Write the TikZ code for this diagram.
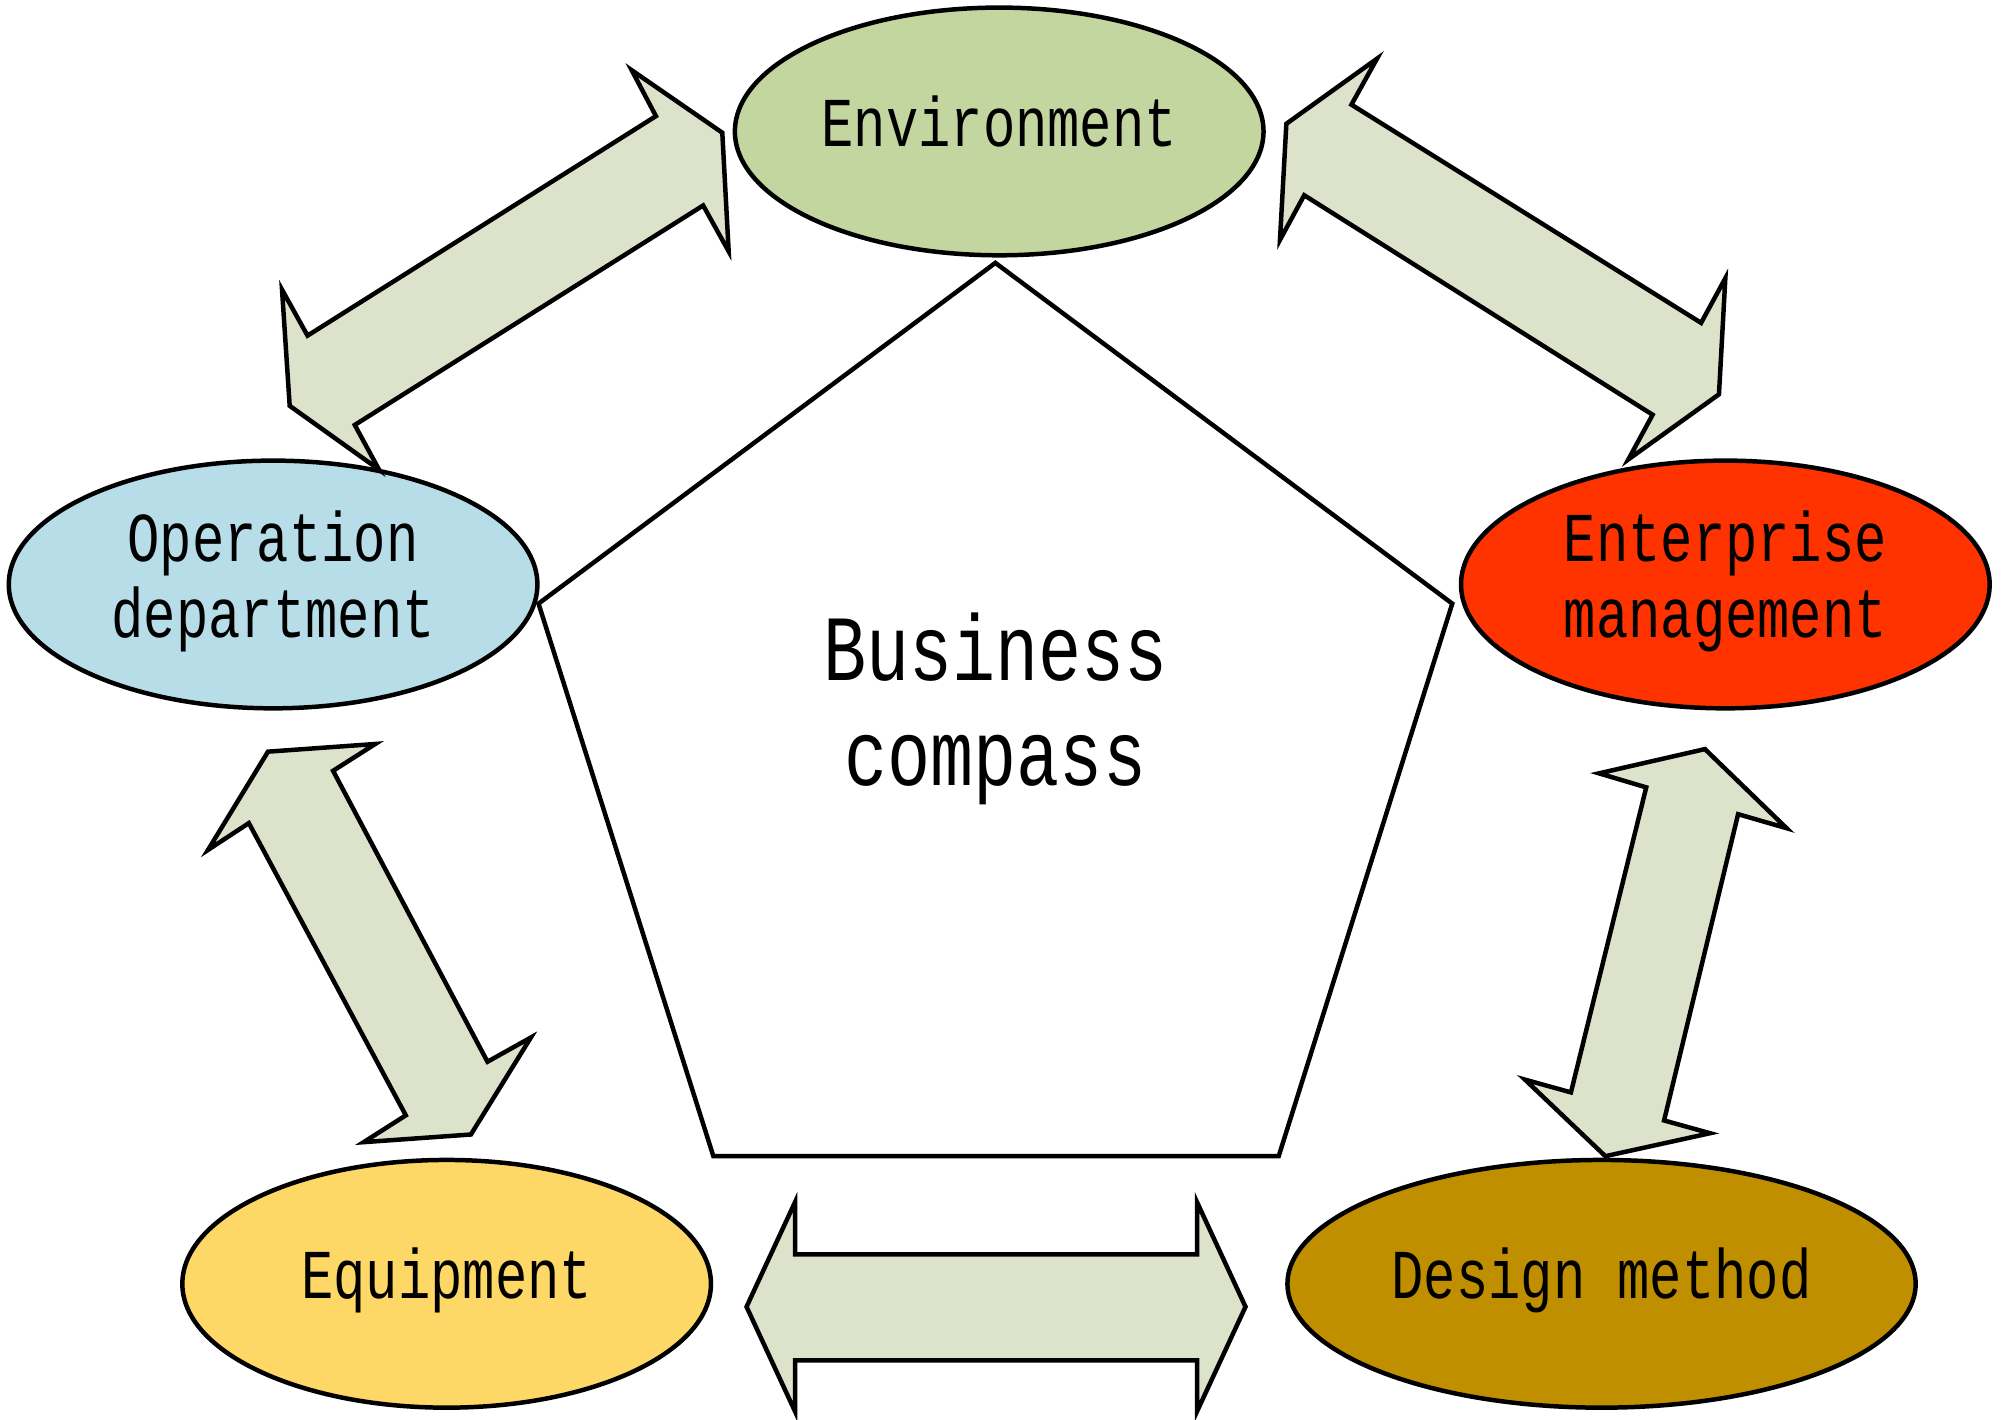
\documentclass[tikz,border=0pt]{standalone}
\usepackage{fontspec}
\setmainfont{Liberation Mono}
\usetikzlibrary{shapes.geometric}
\newcommand\tallt[1]{\scalebox{1}[1.3]{\fontsize{12}{13}\selectfont\begin{tabular}{@{}c@{}}#1\end{tabular}}}
\newcommand\bigt[1]{\scalebox{1}[1.3]{\fontsize{16}{18}\selectfont\begin{tabular}{@{}c@{}}#1\end{tabular}}}
\definecolor{envc}{HTML}{C4D6A0}
\definecolor{opc}{HTML}{B7DDE8}
\definecolor{entc}{HTML}{FF3300}
\definecolor{eqc}{HTML}{FED866}
\definecolor{dsc}{HTML}{BF8F00}
\definecolor{arc}{HTML}{DDE3CB}
\begin{document}
\begin{tikzpicture}[x=0.01cm,y=-0.01cm,line width=1pt,
  ell/.style={ellipse,draw,minimum width=4.14cm,minimum height=1.94cm,inner sep=0pt},
  arr/.style={draw,fill=arc,line join=miter}]
\useasboundingbox (0,0) rectangle (1568,1112);
\node[ell,fill=envc] (env) at (783,103) {\tallt{Environment}};
\node[ell,fill=opc] (op) at (214,458) {\tallt{Operation\\department}};
\node[ell,fill=entc] (ent) at (1352,458) {\tallt{Enterprise\\management}};
\node[ell,fill=eqc] (eq) at (350,1006) {\tallt{Equipment}};
\node[ell,fill=dsc,minimum width=4.92cm] (ds) at (1255,1006) {\tallt{Design method}};
\draw (780,206)--(1138,473)--(1002,906)--(559,906)--(422,473)--cycle;
\node (bc) at (780,558) {\bigt{Business\\compass}};
\draw[arr] (566,104)--(571,197)--(551,161)--(278,333)--(297,368)--(227,318)--(221,227)--(241,263)--(514,91)--(495,55)--cycle;
\draw[arr] (1008,97)--(1079,46)--(1059,82)--(1333,253)--(1352,218)--(1347,309)--(1276,360)--(1295,325)--(1022,153)--(1003,188)--cycle;
\draw[arr] (210,589)--(294,583)--(261,604)--(382,832)--(416,813)--(369,889)--(285,895)--(318,874)--(195,645)--(163,666)--cycle;
\draw[arr] (1336,587)--(1400,649)--(1362,638)--(1304,878)--(1340,888)--(1258,906)--(1195,846)--(1231,856)--(1290,617)--(1253,606)--cycle;
\draw[arr] (585,1024)--(623,942)--(623,983)--(938,983)--(938,942)--(976,1024)--(938,1106)--(938,1066)--(623,1066)--(623,1106)--cycle;
\end{tikzpicture}
\end{document}
